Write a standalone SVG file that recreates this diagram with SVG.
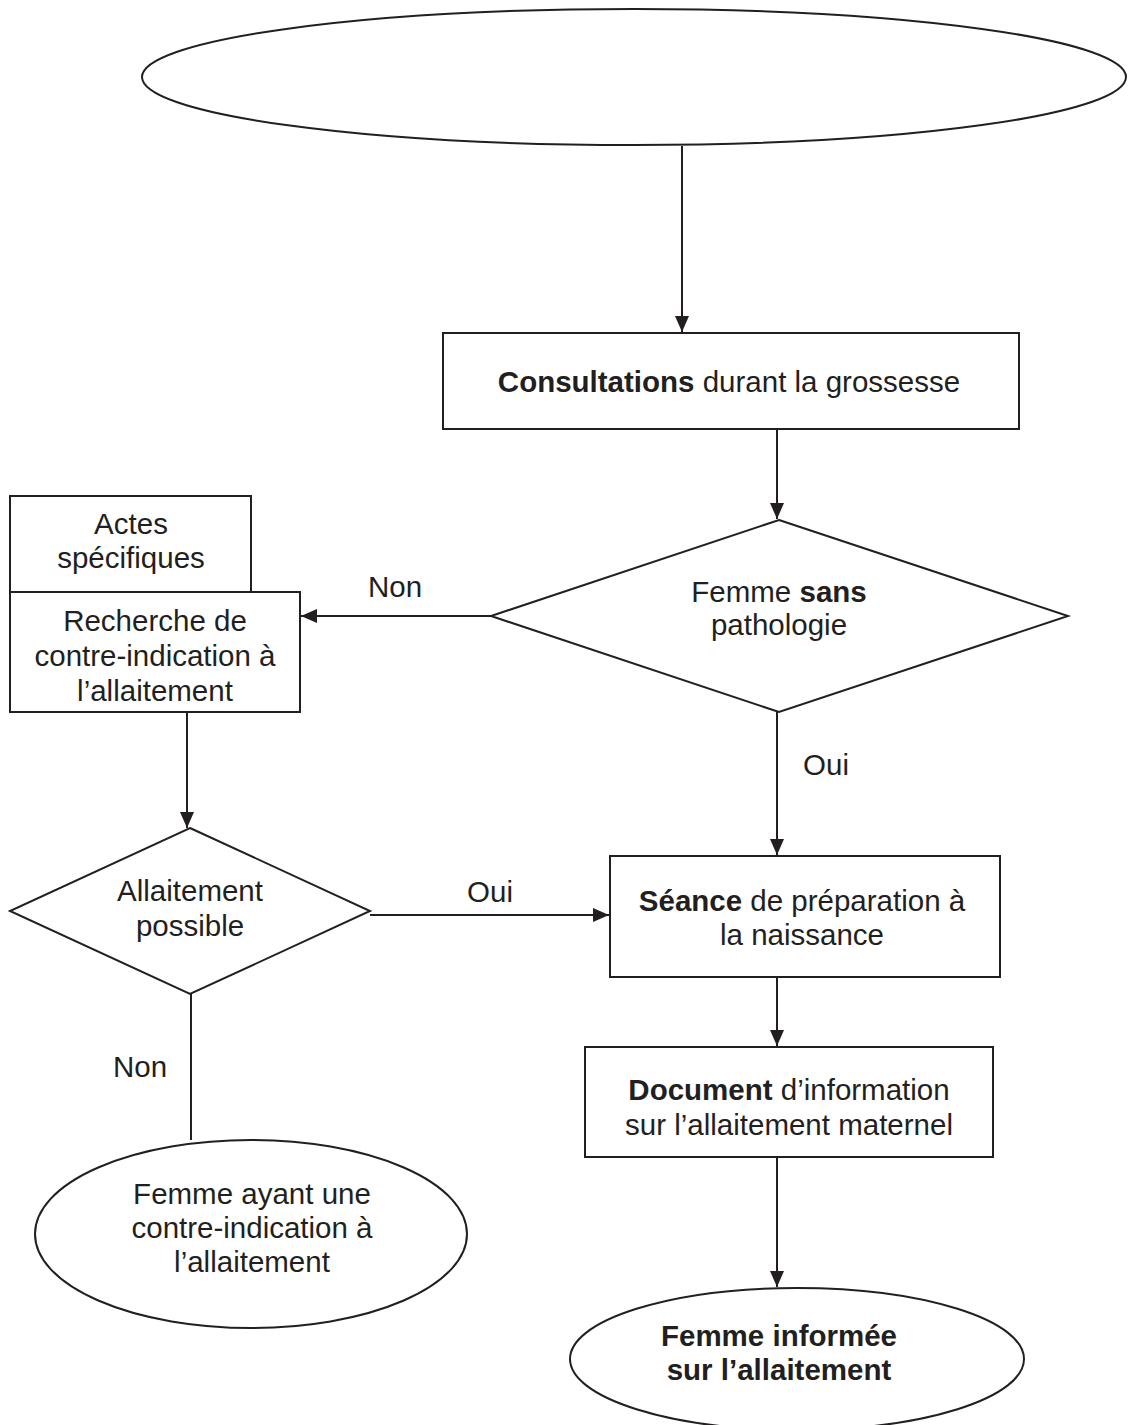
<svg xmlns="http://www.w3.org/2000/svg" width="1128" height="1425" viewBox="0 0 1128 1425">
<defs>
<marker id="arr" viewBox="0 0 16 14" refX="16" refY="7" markerWidth="16" markerHeight="14" markerUnits="userSpaceOnUse" orient="auto">
<path d="M0,0 L16,7 L0,14 Z" fill="#231f20"/>
</marker>
</defs>
<style>
.s{fill:#fff;stroke:#231f20;stroke-width:2}
.c{fill:none;stroke:#231f20;stroke-width:2}
text{font-family:"Liberation Sans",Arial,sans-serif;font-size:29.5px;fill:#231f20;text-anchor:middle}
.b{font-weight:bold}
</style>
<rect width="1128" height="1425" fill="#fff"/>
<g id="connectors">
<line class="c" x1="682" y1="146" x2="682" y2="332" marker-end="url(#arr)"/>
<line class="c" x1="777" y1="424" x2="777" y2="519" marker-end="url(#arr)"/>
<line class="c" x1="491" y1="616" x2="301" y2="616" marker-end="url(#arr)"/>
<line class="c" x1="187" y1="708" x2="187" y2="828" marker-end="url(#arr)"/>
<line class="c" x1="370" y1="915" x2="609" y2="915" marker-end="url(#arr)"/>
<line class="c" x1="191" y1="993" x2="191" y2="1140"/>
<line class="c" x1="777" y1="712" x2="777" y2="855" marker-end="url(#arr)"/>
<line class="c" x1="777" y1="973" x2="777" y2="1046" marker-end="url(#arr)"/>
<line class="c" x1="777" y1="1157" x2="777" y2="1287" marker-end="url(#arr)"/>
<text x="395" y="597">Non</text>
<text x="490" y="902">Oui</text>
<text x="140" y="1077">Non</text>
<text x="826" y="775">Oui</text>
</g>
<g id="start">
<ellipse class="s" cx="634" cy="77" rx="492" ry="68"/>
</g>
<g id="consultations">
<rect class="s" x="443" y="333" width="576" height="96"/>
<text x="729" y="392"><tspan class="b">Consultations</tspan> durant la grossesse</text>
</g>
<g id="decision1">
<polygon class="s" points="779,520 1068,616 779,712 491,616"/>
<text x="779" y="602">Femme <tspan class="b">sans</tspan></text>
<text x="779" y="635">pathologie</text>
</g>
<g id="actes">
<rect class="s" x="10" y="496" width="241" height="96"/>
<text x="131" y="534">Actes</text>
<text x="131" y="568">spécifiques</text>
</g>
<g id="recherche">
<rect class="s" x="10" y="592" width="290" height="120"/>
<text x="155" y="631">Recherche de</text>
<text x="155" y="666">contre-indication à</text>
<text x="155" y="701">l’allaitement</text>
</g>
<g id="decision2">
<polygon class="s" points="190,828 370,911 190,994 10,911"/>
<text x="190" y="901">Allaitement</text>
<text x="190" y="936">possible</text>
</g>
<g id="seance">
<rect class="s" x="610" y="856" width="390" height="121"/>
<text x="802" y="911"><tspan class="b">Séance</tspan> de préparation à</text>
<text x="802" y="945">la naissance</text>
</g>
<g id="document">
<rect class="s" x="585" y="1047" width="408" height="110"/>
<text x="789" y="1100"><tspan class="b">Document</tspan> d’information</text>
<text x="789" y="1135">sur l’allaitement maternel</text>
</g>
<g id="contre">
<ellipse class="s" cx="251" cy="1234" rx="216" ry="94"/>
<text x="252" y="1204">Femme ayant une</text>
<text x="252" y="1238">contre-indication à</text>
<text x="252" y="1272">l’allaitement</text>
</g>
<g id="informee">
<ellipse class="s" cx="797" cy="1359" rx="227" ry="71"/>
<text class="b" x="779" y="1346">Femme informée</text>
<text class="b" x="779" y="1380">sur l’allaitement</text>
</g>
</svg>
